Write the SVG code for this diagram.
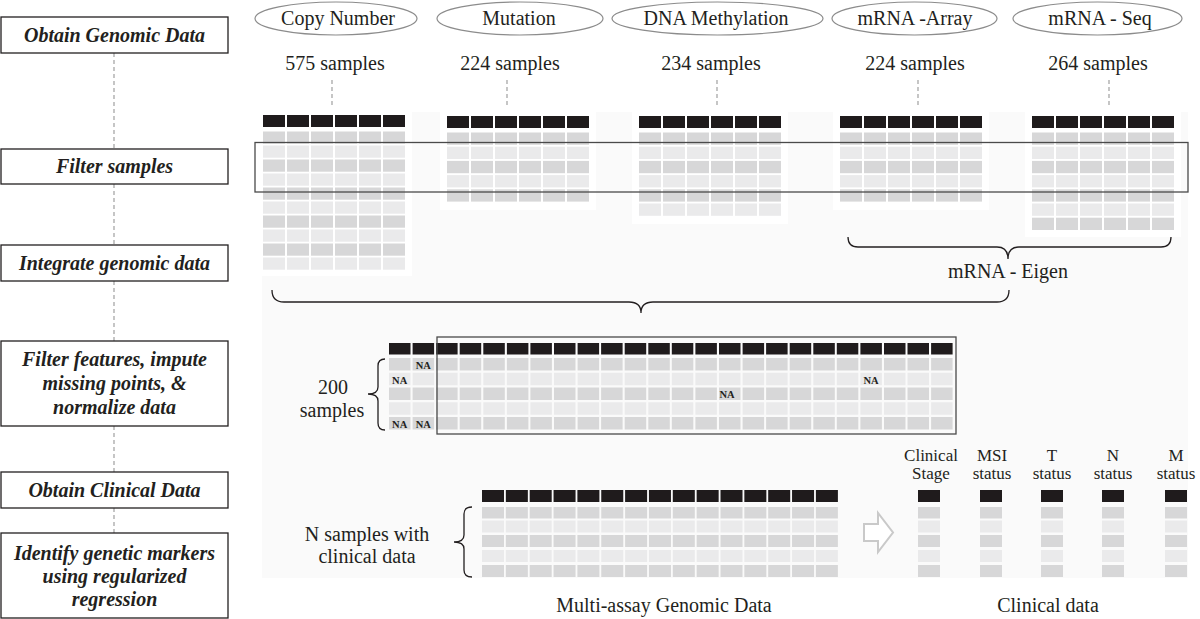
<svg xmlns="http://www.w3.org/2000/svg" xmlns:xlink="http://www.w3.org/1999/xlink" width="1200" height="619" viewBox="0 0 1200 619">
<style>
text{font-family:"Liberation Serif","Times New Roman",serif;fill:#231f20}
.step{font-size:20px;font-weight:bold;font-style:italic;text-anchor:middle}
.lbl{font-size:20px;text-anchor:middle}
.clin{font-size:17px;text-anchor:middle}
.na{font-size:10.5px;font-weight:bold;text-anchor:middle}
.box{fill:#fff;stroke:#231f20;stroke-width:1.3}
.ell{fill:#fff;stroke:#8c8c8c;stroke-width:1.2}
.hd{fill:#1f1b1c}
.dk{fill:#d7d7d8}
.lt{fill:#eaeaeb}
.dash{fill:none;stroke:#a0a0a0;stroke-width:1.2;stroke-dasharray:4 3}
.brace{fill:none;stroke:#231f20;stroke-width:1.3}
.frame{fill:none;stroke:#4a4a4a;stroke-width:1.3}
</style>
<defs>
<g id="t5">
<rect class="hd" x="0" y="0" width="22" height="12"/>
<rect class="dk" x="0" y="16.5" width="22" height="12.3"/>
<rect class="lt" x="0" y="30.7" width="22" height="12.3"/>
<rect class="dk" x="0" y="44.9" width="22" height="12.3"/>
<rect class="lt" x="0" y="59.1" width="22" height="12.3"/>
<rect class="dk" x="0" y="73.3" width="22" height="12.3"/>
</g>
<g id="t6"><use xlink:href="#t5"/><rect class="lt" x="0" y="87.5" width="22" height="12.3"/></g>
<g id="t7"><use xlink:href="#t6"/><rect class="dk" x="0" y="101.7" width="22" height="12.3"/></g>
<g id="t10">
<rect class="hd" x="0" y="0" width="22" height="12"/>
<rect class="dk" x="0" y="16.5" width="22" height="12.2"/>
<rect class="lt" x="0" y="30.5" width="22" height="12.2"/>
<rect class="dk" x="0" y="44.5" width="22" height="12.2"/>
<rect class="lt" x="0" y="58.5" width="22" height="12.2"/>
<rect class="dk" x="0" y="72.5" width="22" height="12.2"/>
<rect class="lt" x="0" y="86.5" width="22" height="12.2"/>
<rect class="dk" x="0" y="100.5" width="22" height="12.2"/>
<rect class="lt" x="0" y="114.5" width="22" height="12.2"/>
<rect class="dk" x="0" y="128.5" width="22" height="12.2"/>
<rect class="lt" x="0" y="142.5" width="22" height="12.2"/>
</g>
<g id="tab5"><use xlink:href="#t5" x="0"/><use xlink:href="#t5" x="24"/><use xlink:href="#t5" x="48"/><use xlink:href="#t5" x="72"/><use xlink:href="#t5" x="96"/><use xlink:href="#t5" x="120"/></g>
<g id="tab6"><use xlink:href="#t6" x="0"/><use xlink:href="#t6" x="24"/><use xlink:href="#t6" x="48"/><use xlink:href="#t6" x="72"/><use xlink:href="#t6" x="96"/><use xlink:href="#t6" x="120"/></g>
<g id="tab7"><use xlink:href="#t7" x="0"/><use xlink:href="#t7" x="24"/><use xlink:href="#t7" x="48"/><use xlink:href="#t7" x="72"/><use xlink:href="#t7" x="96"/><use xlink:href="#t7" x="120"/></g>
<g id="tab10"><use xlink:href="#t10" x="0"/><use xlink:href="#t10" x="24"/><use xlink:href="#t10" x="48"/><use xlink:href="#t10" x="72"/><use xlink:href="#t10" x="96"/><use xlink:href="#t10" x="120"/></g>
<g id="m">
<rect class="hd" x="0" y="0" width="21.5" height="11.5"/>
<rect class="dk" x="0" y="15" width="21.5" height="12.5"/>
<rect class="lt" x="0" y="29.75" width="21.5" height="12.5"/>
<rect class="dk" x="0" y="44.5" width="21.5" height="12.5"/>
<rect class="lt" x="0" y="59.25" width="21.5" height="12.5"/>
<rect class="dk" x="0" y="74" width="21.5" height="12.5"/>
</g>
<g id="c">
<rect class="hd" x="0" y="0" width="22" height="12"/>
<rect class="dk" x="0" y="17" width="22" height="11.5"/>
<rect class="lt" x="0" y="30.5" width="22" height="12"/>
<rect class="dk" x="0" y="45" width="22" height="12"/>
<rect class="lt" x="0" y="60" width="22" height="12"/>
<rect class="dk" x="0" y="75" width="22" height="12"/>
</g>
</defs>

<rect x="0" y="0" width="1200" height="619" fill="#fff"/>
<rect x="262" y="112" width="926" height="466" fill="#fafafa"/>
<rect x="256" y="108" width="156" height="168" fill="#fff"/>
<rect x="440" y="110" width="156" height="100" fill="#fff"/>
<rect x="632" y="110" width="156" height="114" fill="#fff"/>
<rect x="833" y="110" width="156" height="100" fill="#fff"/>
<rect x="1025" y="110" width="156" height="127" fill="#fff"/>

<g id="connectors">
<line class="dash" x1="114" y1="53" x2="114" y2="149"/>
<line class="dash" x1="114" y1="184" x2="114" y2="245"/>
<line class="dash" x1="114" y1="281" x2="114" y2="341"/>
<line class="dash" x1="114" y1="426" x2="114" y2="472"/>
<line class="dash" x1="114" y1="508" x2="114" y2="533"/>
<line class="dash" x1="332" y1="80" x2="332" y2="106"/>
<line class="dash" x1="507" y1="80" x2="507" y2="106"/>
<line class="dash" x1="717" y1="80" x2="717" y2="106"/>
<line class="dash" x1="918" y1="80" x2="918" y2="106"/>
<line class="dash" x1="1109" y1="80" x2="1109" y2="106"/>
<path class="brace" d="M272,290 Q272,302 284,302 L629,302 Q641,302 641,313 Q641,302 653,302 L997,302 Q1009,302 1009,290"/>
<path class="brace" d="M848,237 Q848,247 858,247 L997,247 Q1008,247 1008,259 Q1008,247 1019,247 L1161,247 Q1171,247 1171,237"/>
<path class="brace" d="M385,359 Q378,359 378,366 L378,387 Q378,394 368,394 Q378,394 378,401 L378,423 Q378,430 385,430"/>
<path class="brace" d="M472,507 Q464,507 464,514 L464,535 Q464,542 454,542 Q464,542 464,549 L464,570 Q464,577 472,577"/>
<polygon points="864,524 878,524 878,513 893,532.5 878,552 878,541 864,541" fill="#fff" stroke="#c9c9c9" stroke-width="2" stroke-linejoin="miter"/>
</g>

<g id="step-obtain-genomic"><rect class="box" x="1" y="17" width="227" height="36"/><text class="step" x="114.5" y="42">Obtain Genomic Data</text></g>
<g id="step-filter-samples"><rect class="box" x="1" y="149" width="227" height="35"/><text class="step" x="114.5" y="173">Filter samples</text></g>
<g id="step-integrate"><rect class="box" x="1" y="245" width="227" height="36"/><text class="step" x="114.5" y="270">Integrate genomic data</text></g>
<g id="step-filter-features"><rect class="box" x="1" y="341" width="227" height="85"/><text class="step" x="114.5" y="366">Filter features, impute</text><text class="step" x="114.5" y="390">missing points, &amp;</text><text class="step" x="114.5" y="414">normalize data</text></g>
<g id="step-obtain-clinical"><rect class="box" x="1" y="472" width="227" height="36"/><text class="step" x="114.5" y="497">Obtain Clinical Data</text></g>
<g id="step-identify"><rect class="box" x="1" y="533" width="227" height="85"/><text class="step" x="114.5" y="560">Identify genetic markers</text><text class="step" x="114.5" y="583">using regularized</text><text class="step" x="114.5" y="606">regression</text></g>

<g id="copy-number"><ellipse class="ell" cx="336" cy="18.5" rx="81" ry="16.5"/><text class="lbl" x="338" y="25">Copy Number</text><text class="lbl" x="335" y="70">575 samples</text><use xlink:href="#tab10" x="263" y="115"/></g>
<g id="mutation"><ellipse class="ell" cx="520" cy="18.5" rx="83" ry="16.5"/><text class="lbl" x="519" y="25">Mutation</text><text class="lbl" x="510" y="70">224 samples</text><use xlink:href="#tab5" x="447" y="116"/></g>
<g id="dna-methylation"><ellipse class="ell" cx="717.5" cy="18.5" rx="105.5" ry="16.5"/><text class="lbl" x="716" y="25">DNA Methylation</text><text class="lbl" x="711" y="70">234 samples</text><use xlink:href="#tab6" x="639" y="116"/></g>
<g id="mrna-array"><ellipse class="ell" cx="914.5" cy="18.5" rx="82.5" ry="16.5"/><text class="lbl" x="915" y="25">mRNA -Array</text><text class="lbl" x="915" y="70">224 samples</text><use xlink:href="#tab5" x="840" y="116"/></g>
<g id="mrna-seq"><ellipse class="ell" cx="1097.5" cy="18.5" rx="84.5" ry="16.5"/><text class="lbl" x="1100" y="25">mRNA - Seq</text><text class="lbl" x="1098" y="70">264 samples</text><use xlink:href="#tab7" x="1032" y="116"/></g>

<g id="filter-samples-frame"><rect class="frame" x="255" y="142.5" width="933" height="49.5"/></g>
<g id="mrna-eigen"><text class="lbl" x="1008" y="278">mRNA - Eigen</text></g>

<g id="integrated-matrix">
<use xlink:href="#m" x="389" y="343"/><use xlink:href="#m" x="412.6" y="343"/><use xlink:href="#m" x="436.1" y="343"/><use xlink:href="#m" x="459.7" y="343"/><use xlink:href="#m" x="483.3" y="343"/><use xlink:href="#m" x="506.9" y="343"/><use xlink:href="#m" x="530.4" y="343"/><use xlink:href="#m" x="554" y="343"/><use xlink:href="#m" x="577.6" y="343"/><use xlink:href="#m" x="601.1" y="343"/><use xlink:href="#m" x="624.7" y="343"/><use xlink:href="#m" x="648.3" y="343"/><use xlink:href="#m" x="671.8" y="343"/><use xlink:href="#m" x="695.4" y="343"/><use xlink:href="#m" x="719" y="343"/><use xlink:href="#m" x="742.6" y="343"/><use xlink:href="#m" x="766.1" y="343"/><use xlink:href="#m" x="789.7" y="343"/><use xlink:href="#m" x="813.3" y="343"/><use xlink:href="#m" x="836.8" y="343"/><use xlink:href="#m" x="860.4" y="343"/><use xlink:href="#m" x="884" y="343"/><use xlink:href="#m" x="907.5" y="343"/><use xlink:href="#m" x="931.1" y="343"/>
<rect class="frame" x="437" y="337" width="519" height="97"/>
<text class="na" x="423.3" y="368.5">NA</text>
<text class="na" x="399.7" y="383.5">NA</text>
<text class="na" x="727" y="398">NA</text>
<text class="na" x="871" y="383.5">NA</text>
<text class="na" x="399.7" y="427.5">NA</text>
<text class="na" x="423.3" y="427.5">NA</text>
<text class="lbl" x="333" y="394">200</text>
<text class="lbl" x="332" y="417">samples</text>
</g>

<g id="genomic-matrix">
<use xlink:href="#c" x="482" y="490"/><use xlink:href="#c" x="505.85" y="490"/><use xlink:href="#c" x="529.7" y="490"/><use xlink:href="#c" x="553.55" y="490"/><use xlink:href="#c" x="577.4" y="490"/><use xlink:href="#c" x="601.25" y="490"/><use xlink:href="#c" x="625.1" y="490"/><use xlink:href="#c" x="648.95" y="490"/><use xlink:href="#c" x="672.8" y="490"/><use xlink:href="#c" x="696.65" y="490"/><use xlink:href="#c" x="720.5" y="490"/><use xlink:href="#c" x="744.35" y="490"/><use xlink:href="#c" x="768.2" y="490"/><use xlink:href="#c" x="792.05" y="490"/><use xlink:href="#c" x="815.9" y="490"/>
<text class="lbl" x="367" y="541">N samples with</text>
<text class="lbl" x="367" y="563">clinical data</text>
<text class="lbl" x="664" y="612">Multi-assay Genomic Data</text>
</g>

<g id="clinical-data">
<text class="clin" x="931" y="461">Clinical</text><text class="clin" x="931" y="479">Stage</text><use xlink:href="#c" x="918" y="490"/>
<text class="clin" x="992" y="461">MSI</text><text class="clin" x="992" y="479">status</text><use xlink:href="#c" x="980" y="490"/>
<text class="clin" x="1052" y="461">T</text><text class="clin" x="1052" y="479">status</text><use xlink:href="#c" x="1041" y="490"/>
<text class="clin" x="1113" y="461">N</text><text class="clin" x="1113" y="479">status</text><use xlink:href="#c" x="1102" y="490"/>
<text class="clin" x="1176" y="461">M</text><text class="clin" x="1176" y="479">status</text><use xlink:href="#c" x="1165" y="490"/>
<text class="lbl" x="1048" y="612">Clinical data</text>
</g>
</svg>
